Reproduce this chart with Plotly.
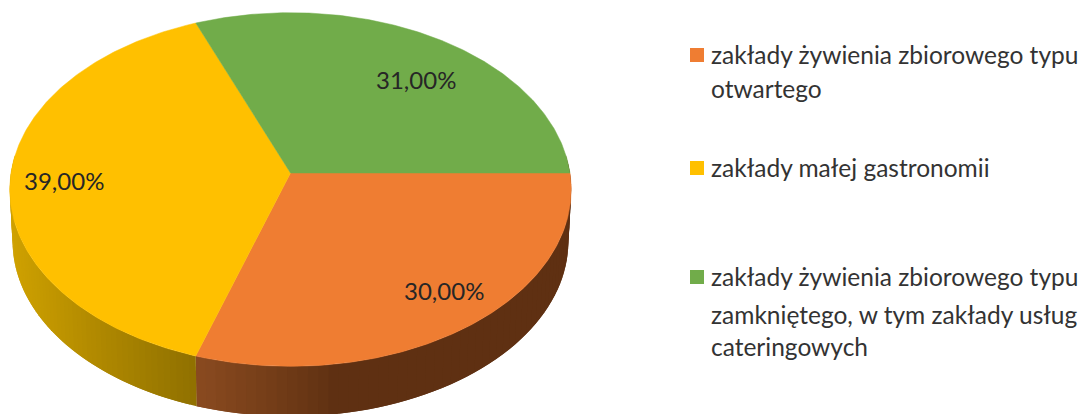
import numpy as np
import plotly.graph_objects as go

# --- data ---
categories = [
    "zakłady żywienia zbiorowego typu<br>otwartego",
    "zakłady małej gastronomii",
    "zakłady żywienia zbiorowego typu<br>zamkniętego, w tym zakłady usług<br>cateringowych",
]
values = [30.0, 39.0, 31.0]
value_labels = ["30,00%", "39,00%", "31,00%"]

# --- style ---
top_colors = ["#EF7D32", "#FFC000", "#71AC4A"]
side_stops_x = [[197, 290, 335, 575], [8, 100, 197], None]
side_stops_rgb = [
    [(138, 74, 32), (110, 58, 22), (95, 48, 18), (95, 48, 18)],
    [(208, 162, 0), (175, 136, 0), (143, 112, 0)],
    None,
]
CX, CY, A, B, P = 290.5, 173.0, 279.5, 175.3, 0.0934   # projection of the disc
DEPTH, BOTTOM_SCALE = 52.0, 0.99
label_r = [0.816, 0.808, 0.732]
label_shift = [-3.4, -1.4, 6.0]
legend_y = [[54, 88], [167], [276, 314, 346]]
LEG_MARK_X, LEG_TEXT_X = 697, 709
FONT = "Lato, Carlito, Calibri, sans-serif"


def project(theta_deg, r=1.0, dz=0.0, scale=1.0):
    t = np.radians(theta_deg)
    u, v = r * np.cos(t), r * np.sin(t)
    d = 1 - P * v
    return CX + scale * A * u / d, CY + dz + scale * B * v / d


shares = np.array(values) / sum(values) * 360
edges = np.concatenate([[0], np.cumsum(shares)])
fig = go.Figure()

# rim (front side of the cylinder), as overlapping strips of the shaded colour
for i in range(len(values)):
    if side_stops_x[i] is None:
        continue
    lo, hi = edges[i], min(edges[i + 1], 186.0)
    if i == 0:
        lo = -6.0
    th = np.linspace(lo, hi, 60)
    stops = np.array(side_stops_rgb[i])
    for k in range(len(th) - 1):
        # each strip runs on under the next one so that no seam shows
        seg = np.linspace(th[k], th[min(k + 2, len(th) - 1)], 5)
        xt, yt = project(seg)
        xb, yb = project(seg[::-1], dz=DEPTH, scale=BOTTOM_SCALE)
        mx = float(np.mean(xt[:3]))
        rgb = [np.interp(mx, side_stops_x[i], stops[:, c]) for c in range(3)]
        col = "rgb(%d,%d,%d)" % tuple(int(round(c)) for c in rgb)
        fig.add_trace(go.Scatter(
            x=np.r_[xt, xb], y=np.r_[yt, yb], mode="lines", fill="toself",
            fillcolor=col, line=dict(width=0),
            hoverinfo="skip", showlegend=False))

# top face
for i, name in enumerate(categories):
    th = np.linspace(edges[i], edges[i + 1], 200)
    x, y = project(th)
    fig.add_trace(go.Scatter(
        x=np.r_[CX, x, CX], y=np.r_[CY, y, CY], mode="lines", fill="toself",
        fillcolor=top_colors[i], line=dict(color=top_colors[i], width=0.5),
        name=name.replace("<br>", " "), hoverinfo="name", showlegend=False))

# value labels
for i, lab in enumerate(value_labels):
    mid = (edges[i] + edges[i + 1]) / 2 + label_shift[i]
    lx, ly = project(mid, r=label_r[i])
    fig.add_annotation(x=float(lx), y=float(ly), text=lab, showarrow=False,
                       font=dict(family=FONT, size=24, color="#262626"))

# legend
for i, name in enumerate(categories):
    fig.add_trace(go.Scatter(
        x=[LEG_MARK_X], y=[legend_y[i][0] + 1], mode="markers",
        marker=dict(symbol="square", size=14, color=top_colors[i]),
        hoverinfo="skip", showlegend=False))
    for line, yy in zip(name.split("<br>"), legend_y[i]):
        fig.add_annotation(x=LEG_TEXT_X, y=yy, text=line, showarrow=False,
                           xanchor="left", yanchor="middle",
                           font=dict(family=FONT, size=24.5, color="#333333"))

fig.update_layout(
    width=1086, height=414, margin=dict(l=0, r=0, t=0, b=0),
    paper_bgcolor="white", plot_bgcolor="white", showlegend=False,
    xaxis=dict(range=[0, 1086], visible=False, fixedrange=True),
    yaxis=dict(range=[414, 0], visible=False, fixedrange=True),
)
fig.write_html("out.html", config={"displayModeBar": False},
               post_script="document.body.style.margin='0';document.body.style.overflow='hidden';")
